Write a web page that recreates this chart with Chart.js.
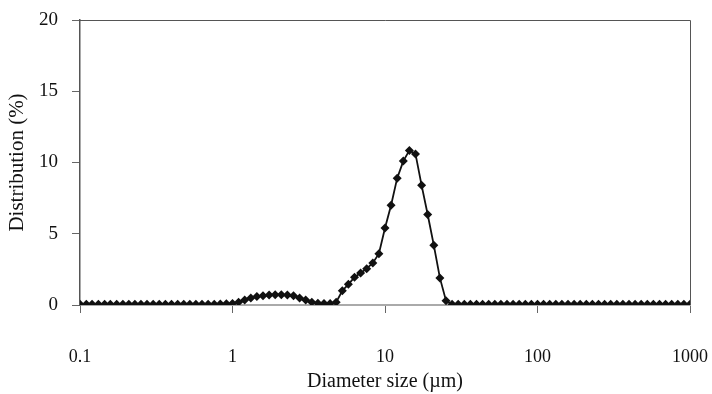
<!DOCTYPE html>
<html>
<head>
<meta charset="utf-8">
<script src="https://cdn.jsdelivr.net/npm/chart.js@4/dist/chart.umd.min.js"></script>
<style>
  html, body { margin: 0; padding: 0; background: #fff; }
  #wrap { width: 712px; height: 394px; }
</style>
</head>
<body>
<div id="wrap"><canvas id="chart"></canvas></div>
<script>
// Particle size bins (µm) and distribution (%)
const diameters = [
  0.100, 0.110, 0.120, 0.132, 0.145, 0.158, 0.174, 0.191, 0.209, 0.229,
  0.251, 0.275, 0.302, 0.331, 0.363, 0.398, 0.437, 0.479, 0.525, 0.575,
  0.631, 0.692, 0.759, 0.832, 0.912, 1.000, 1.096, 1.202, 1.318, 1.445,
  1.585, 1.738, 1.905, 2.089, 2.291, 2.512, 2.754, 3.020, 3.311, 3.631,
  3.981, 4.365, 4.786, 5.248, 5.754, 6.310, 6.918, 7.586, 8.318, 9.120,
  10.00, 10.96, 12.02, 13.18, 14.45, 15.85, 17.38, 19.05, 20.89, 22.91,
  25.12, 27.54, 30.20, 33.11, 36.31, 39.81, 43.65, 47.86, 52.48, 57.54,
  63.10, 69.18, 75.86, 83.18, 91.20, 100.0, 109.6, 120.2, 131.8, 144.5,
  158.5, 173.8, 190.5, 208.9, 229.1, 251.2, 275.4, 302.0, 331.1, 363.1,
  398.1, 436.5, 478.6, 524.8, 575.4, 631.0, 691.8, 758.6, 831.8, 912.0,
  1000
];
const distribution = [
  0.05, 0.05, 0.05, 0.05, 0.05, 0.05, 0.05, 0.05, 0.05, 0.05,
  0.05, 0.05, 0.05, 0.05, 0.05, 0.05, 0.05, 0.05, 0.05, 0.05,
  0.05, 0.05, 0.06, 0.07, 0.08, 0.10, 0.20, 0.35, 0.50, 0.60,
  0.65, 0.70, 0.72, 0.72, 0.70, 0.65, 0.50, 0.35, 0.20, 0.12,
  0.10, 0.10, 0.20, 1.00, 1.45, 1.95, 2.25, 2.55, 2.95, 3.60,
  5.40, 7.00, 8.90, 10.1, 10.85, 10.6, 8.40, 6.35, 4.20, 1.90,
  0.30, 0.05, 0.05, 0.05, 0.05, 0.05, 0.05, 0.05, 0.05, 0.05,
  0.05, 0.05, 0.05, 0.05, 0.05, 0.05, 0.05, 0.05, 0.05, 0.05,
  0.05, 0.05, 0.05, 0.05, 0.05, 0.05, 0.05, 0.05, 0.05, 0.05,
  0.05, 0.05, 0.05, 0.05, 0.05, 0.05, 0.05, 0.05, 0.05, 0.05,
  0.05
];
const xTicks = [0.1, 1, 10, 100, 1000];
const yTicks = [0, 5, 10, 15, 20];

const serif = 'Liberation Serif';

// top and right frame lines
const frame = {
  id: 'frame',
  beforeDatasetsDraw(chart) {
    const { ctx, chartArea: a } = chart;
    ctx.save();
    ctx.strokeStyle = '#555';
    ctx.lineWidth = 1;
    ctx.beginPath();
    ctx.moveTo(a.left, a.top + 0.5);
    ctx.lineTo(a.right + 0.5, a.top + 0.5);
    ctx.lineTo(a.right + 0.5, a.bottom);
    ctx.stroke();
    ctx.restore();
  }
};

const ctx = document.getElementById('chart').getContext('2d');
new Chart(ctx, {
  type: 'scatter',
  data: {
    datasets: [{
      data: diameters.map((d, i) => ({ x: d, y: distribution[i] })),
      showLine: true,
      borderColor: '#111',
      borderWidth: 1.8,
      pointStyle: 'rectRot',
      pointRadius: 4.5,
      pointBackgroundColor: '#111',
      pointBorderColor: '#111',
      pointBorderWidth: 0
    }]
  },
  options: {
    responsive: true,
    maintainAspectRatio: false,
    animation: false,
    layout: { padding: { top: 20, right: 22, left: 0, bottom: 0 } },
    plugins: { legend: { display: false }, tooltip: { enabled: false } },
    scales: {
      x: {
        type: 'logarithmic',
        min: 0.1,
        max: 1000,
        afterBuildTicks: s => { s.ticks = xTicks.map(v => ({ value: v })); },
        afterFit: s => { s.height = 89; s.paddingLeft = 0; s.paddingRight = 0; },
        ticks: {
          color: '#111',
          padding: 33,
          maxRotation: 0,
          font: { family: serif, size: 18 },
          callback: v => String(v)
        },
        grid: { drawOnChartArea: false, tickLength: 8, color: '#666' },
        border: { color: '#aaa', width: 2 },
        title: {
          display: true,
          text: 'Diameter size (\u00b5m)',
          color: '#111',
          font: { family: serif, size: 20 },
          padding: { top: 0, bottom: 0 }
        }
      },
      y: {
        min: 0,
        max: 20,
        afterBuildTicks: s => { s.ticks = yTicks.map(v => ({ value: v })); },
        afterFit: s => { s.width = 80; s.paddingTop = 0; s.paddingBottom = 0; },
        ticks: {
          color: '#111',
          padding: 14,
          font: { family: serif, size: 19 }
        },
        grid: { drawOnChartArea: false, tickLength: 8, color: '#666' },
        border: { color: '#555', width: 1.5 },
        title: {
          display: true,
          text: 'Distribution (%)',
          color: '#111',
          font: { family: serif, size: 21 },
          padding: { top: 5, bottom: 0 }
        }
      }
    }
  },
  plugins: [frame]
});
</script>
</body>
</html>
